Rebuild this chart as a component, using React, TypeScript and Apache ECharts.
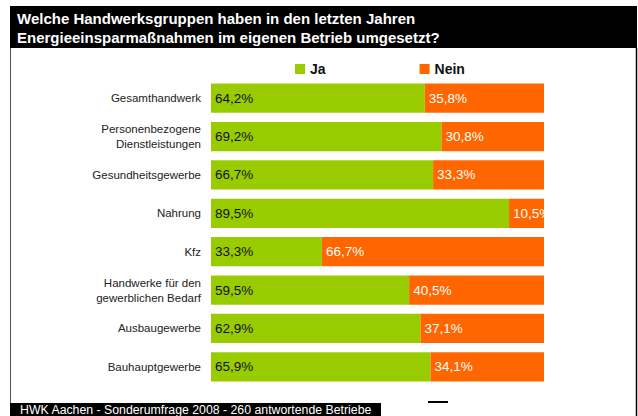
import React, { useEffect, useRef } from "react";
import * as echarts from "echarts";

const categories = [
  "Gesamthandwerk",
  "Personenbezogene\nDienstleistungen",
  "Gesundheitsgewerbe",
  "Nahrung",
  "Kfz",
  "Handwerke für den\ngewerblichen Bedarf",
  "Ausbaugewerbe",
  "Bauhauptgewerbe",
];
const jaValues = [64.2, 69.2, 66.7, 89.5, 33.3, 59.5, 62.9, 65.9];
const neinValues = [35.8, 30.8, 33.3, 10.5, 66.7, 40.5, 37.1, 34.1];

const titleText =
  "Welche Handwerksgruppen haben in den letzten Jahren\nEnergieeinsparmaßnahmen im eigenen Betrieb umgesetzt?";
const footerText = "HWK Aachen - Sonderumfrage 2008 - 260 antwortende Betriebe";

const FONT = "'Liberation Sans', Arial, sans-serif";
const fmt = (v: number) => `${v.toFixed(1).replace(".", ",")}%`;

export default function App() {
  const ref = useRef<HTMLDivElement>(null);
  useEffect(() => {
    if (!ref.current) return;
    const chart = echarts.init(ref.current, null, { renderer: "svg" });
    chart.setOption({
      animation: false,
      backgroundColor: "#ffffff",
      textStyle: { fontFamily: FONT },
      title: {
        text: titleText,
        left: 17,
        top: 9,
        padding: 0,
        textStyle: {
          color: "#ffffff",
          fontSize: 15,
          fontWeight: "bold",
          lineHeight: 19,
          fontFamily: FONT,
        },
        z: 10,
      },
      legend: {
        left: 295,
        top: 62,
        padding: 0,
        itemWidth: 10,
        itemHeight: 10,
        itemGap: 94,
        icon: "rect",
        textStyle: { fontSize: 14, fontWeight: "bold", color: "#111", fontFamily: FONT },
        data: ["Ja", "Nein"],
      },
      grid: { left: 211, right: 94, top: 79, bottom: 30, containLabel: false },
      xAxis: { type: "value", min: 0, max: 100, show: false },
      yAxis: {
        type: "category",
        inverse: true,
        data: categories,
        axisLine: { show: false },
        axisTick: { show: false },
        axisLabel: {
          fontSize: 11.5,
          color: "#222",
          lineHeight: 15,
          margin: 10,
          align: "right",
          fontFamily: FONT,
        },
      },
      graphic: [
        {
          type: "rect",
          z: 0,
          silent: true,
          shape: { x: 10, y: 6, width: 627, height: 42 },
          style: { fill: "#000000" },
        },
        {
          type: "line",
          z: 0,
          silent: true,
          shape: { x1: 10.5, y1: 48, x2: 10.5, y2: 416 },
          style: { stroke: "#555", lineWidth: 1 },
        },
        {
          type: "line",
          z: 0,
          silent: true,
          shape: { x1: 636.5, y1: 48, x2: 636.5, y2: 416 },
          style: { stroke: "#000", lineWidth: 1.5 },
        },
        {
          type: "rect",
          z: 5,
          silent: true,
          shape: { x: 10, y: 403, width: 371, height: 13 },
          style: { fill: "#000000" },
        },
        {
          type: "text",
          z: 6,
          silent: true,
          x: 20,
          y: 404,
          style: {
            text: footerText,
            fill: "#ffffff",
            fontSize: 12.3,
            fontFamily: FONT,
          },
        },
        {
          type: "rect",
          z: 5,
          silent: true,
          shape: { x: 428, y: 401, width: 20, height: 2 },
          style: { fill: "#000000" },
        },
      ],
      series: [
        {
          name: "Ja",
          type: "bar",
          stack: "total",
          data: jaValues,
          barCategoryGap: "24%",
          itemStyle: { color: "#99CC00" },
          label: {
            show: true,
            position: "insideLeft",
            distance: 4,
            color: "#111",
            fontSize: 13.5,
            fontFamily: FONT,
            formatter: (p: any) => fmt(p.value),
          },
        },
        {
          name: "Nein",
          type: "bar",
          stack: "total",
          data: neinValues,
          barCategoryGap: "24%",
          itemStyle: { color: "#FF6600" },
          label: {
            show: true,
            position: "insideLeft",
            distance: 4,
            color: "#ffffff",
            fontSize: 13.5,
            fontFamily: FONT,
            formatter: (p: any) => fmt(p.value),
          },
        },
      ],
    });
    return () => chart.dispose();
  }, []);
  return (
    <div
      ref={ref}
      style={{ position: "fixed", left: 0, top: 0, width: 638, height: 416 }}
    />
  );
}
